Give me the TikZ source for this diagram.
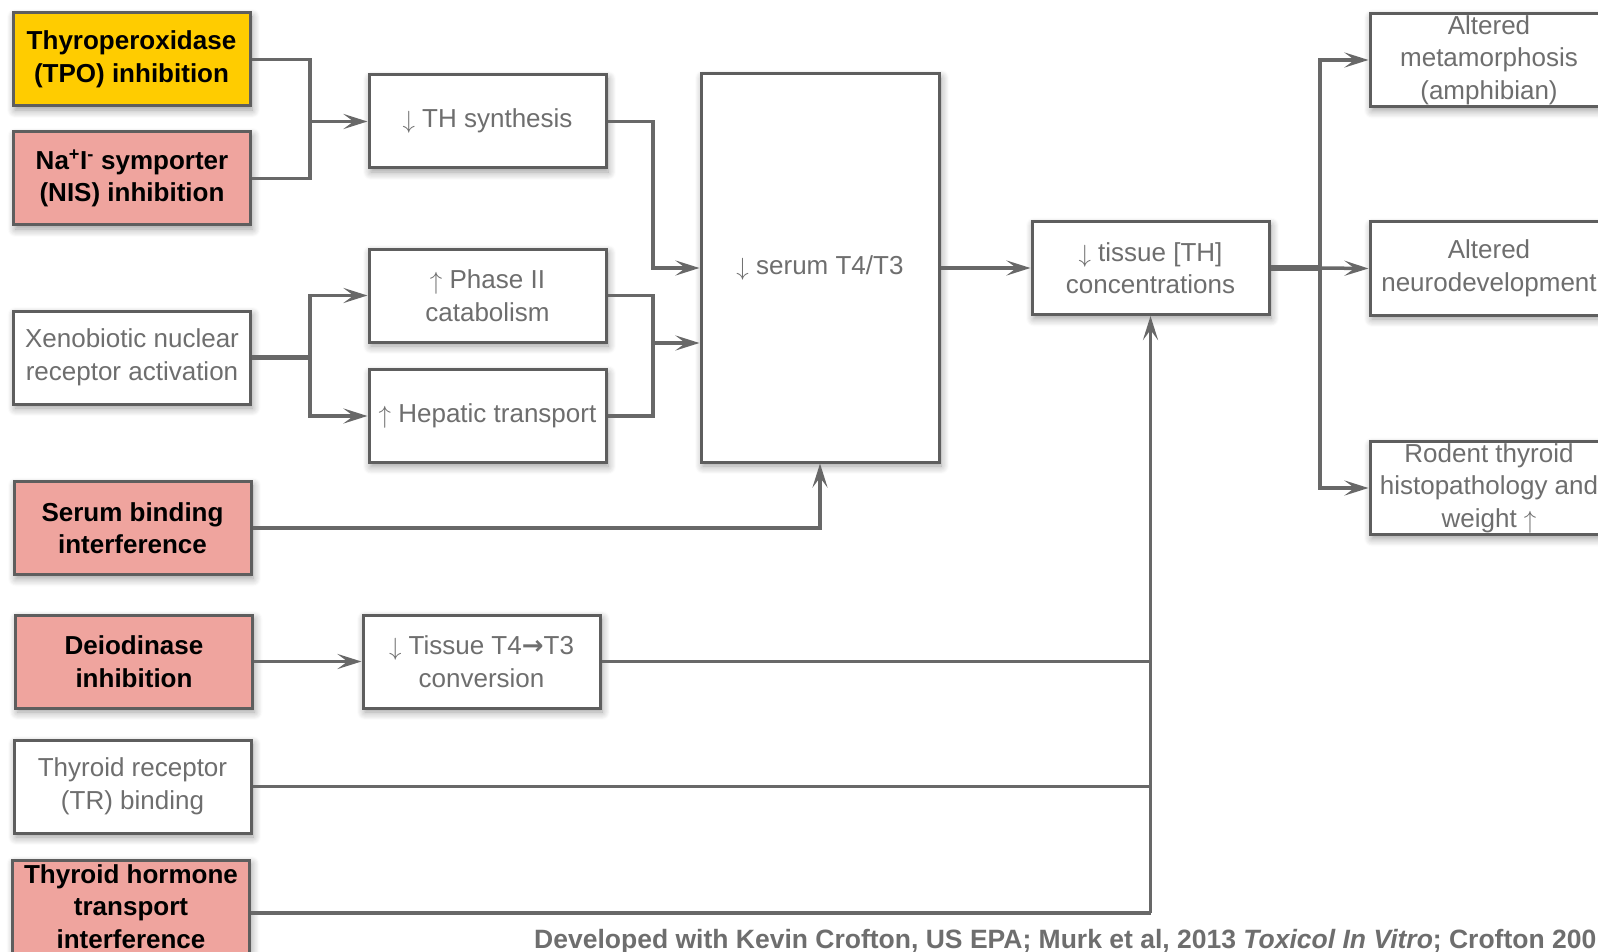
\documentclass[tikz,border=0pt]{standalone}
\usepackage{fontspec}
\setmainfont{Liberation Sans}
\newfontfamily\djv{DejaVu Sans}
\usetikzlibrary{arrows.meta,shadows.blur}
\definecolor{bordc}{HTML}{5E5E5E}
\definecolor{linec}{HTML}{686868}
\definecolor{txtg}{HTML}{6E6E6E}
\definecolor{pinkc}{HTML}{EFA49E}
\definecolor{goldc}{HTML}{FFCC00}
\newcommand\fsz{\fontsize{26}{32.5}\selectfont}
\newcommand\dnar{\raisebox{-1pt}{$\downarrow$}}
\newcommand\upar{\raisebox{-1pt}{$\uparrow$}}
\tikzset{
  box/.style={draw=bordc, line width=3pt, minimum width=237pt, minimum height=93pt,
    inner sep=0pt, align=center, font=\fsz,
    blur shadow={shadow xshift=2pt, shadow yshift=-4pt, shadow opacity=40, shadow blur radius=8pt, shadow blur steps=8}},
  wbox/.style={box, fill=white, text=txtg},
  pbox/.style={box, fill=pinkc, text=black, font=\fsz\bfseries},
  gbox/.style={box, fill=goldc, text=black, font=\fsz\bfseries},
  conn/.style={draw=linec, line width=3.5pt},
  arr/.style={conn, -{Stealth[length=24pt, width=15pt, inset=10pt]}},
}
\begin{document}
\begin{tikzpicture}[x=1pt, y=-1pt]
\useasboundingbox (0,0) rectangle (1598,952);
% left column
\node[gbox] (tpo) at (131.5,59.5) {Thyroperoxidase\\(TPO) inhibition};
\node[pbox] (nis) at (132,178.5) {Na\textsuperscript{+}I\textsuperscript{-} symporter\\(NIS) inhibition};
\node[wbox] (xeno) at (132,357.5) {Xenobiotic nuclear\\receptor activation};
\node[pbox] (serb) at (132.5,528) {Serum binding\\interference};
\node[pbox] (deio) at (134,661.5) {Deiodinase\\inhibition};
\node[wbox] (trb) at (132.5,786.5) {Thyroid receptor\\(TR) binding};
\node[pbox] (tht) at (131,906.5) {Thyroid hormone\\transport\\interference};
% middle column
\node[wbox] (ths) at (487.5,121.5) {\dnar{} TH synthesis};
\node[wbox] (ph2) at (487.5,295.5) {\upar{} Phase II\\catabolism};
\node[wbox] (hep) at (487.5,416) {\upar{} Hepatic transport};
\node[wbox] (t4t3) at (481.5,661.5) {\dnar{} Tissue T4{\djv\bfseries →}T3\\conversion};
\node[wbox, minimum width=238pt, minimum height=388pt] (serum) at (820,268) {\dnar{} serum T4/T3};
\node[wbox] (tissue) at (1150.5,268) {\dnar{} tissue [TH]\\concentrations};
% right column
\node[wbox, minimum width=238pt] (meta) at (1489,60) {Altered\\metamorphosis\\(amphibian)};
\node[wbox, minimum width=238pt] (neuro) at (1489,268.5) {Altered\\neurodevelopment};
\node[wbox, minimum width=238pt] (rodent) at (1489,488) {Rodent thyroid\\histopathology and\\weight \upar};
% junctions
\coordinate (j1) at (310,121.5);
\coordinate (j2) at (653,268);
\coordinate (j3) at (653,343);
\coordinate (j4) at (310,357.5);
\coordinate (j5) at (1150.5,913);
\coordinate (j6) at (1320,268);
% connectors
\draw[conn] (tpo.east) -| (j1);
\draw[conn] (nis.east) -| (j1);
\draw[arr] (j1) -- (ths.west);
\draw[arr] (ths.east) -| (j2) -- (serum.west);
\draw[conn] (ph2.east) -| (j3);
\draw[conn] (hep.east) -| (j3);
\draw[arr] (j3) -- (serum.west |- j3);
\draw[conn, line width=5.5pt] (xeno.east) -- (j4);
\draw[arr] (j4) |- (ph2.west);
\draw[arr] (j4) |- (hep.west);
\draw[arr] (serb.east) -| (serum.south);
\draw[arr] (serum.east) -- (tissue.west);
\draw[arr] (deio.east) -- (t4t3.west);
\draw[conn] (t4t3.east) -- (t4t3.east -| j5);
\draw[conn] (trb.east) -- (trb.east -| j5);
\draw[conn] (tht.east |- j5) -- (j5);
\draw[arr] (j5) -- (tissue.south);
\draw[conn, line width=5.5pt] (tissue.east) -- (j6);
\draw[arr] (j6) |- (meta.west);
\draw[arr] (j6) -- (neuro.west);
\draw[arr] (j6) |- (rodent.west);
% footer
\node[anchor=base west, inner sep=0pt, text=txtg, font=\fontsize{26.5}{30}\selectfont\bfseries] (foot) at (534,948)
  {Developed with Kevin Crofton, US EPA; Murk et al, 2013 \textit{Toxicol In Vitro}; Crofton 200};
\end{tikzpicture}
\end{document}
